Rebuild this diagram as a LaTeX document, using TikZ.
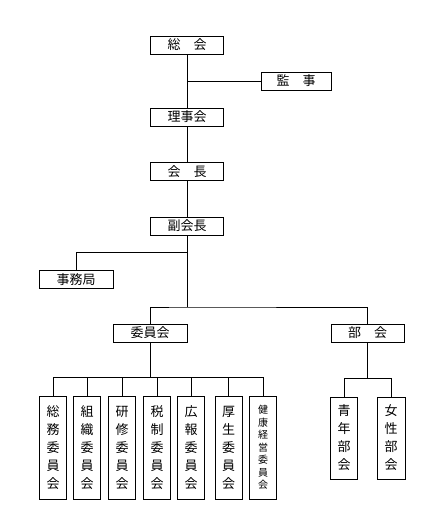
\documentclass[tikz,border=0pt]{standalone}
\usepackage{fontspec}
\newfontfamily\jpfont{Noto Sans CJK JP}
\usetikzlibrary{positioning,calc}

\tikzset{
  hbox/.style={draw, line width=0.9pt, minimum width=73pt, minimum height=18pt,
    inner sep=0pt, font=\jpfont\fontsize{13}{15}\selectfont},
  vbox/.style={draw, line width=0.9pt, minimum width=27pt, minimum height=103pt,
    inner sep=0pt, align=center, font=\jpfont\fontsize{13}{18}\selectfont},
  link/.style={line width=0.9pt}
}

\begin{document}
\begin{tikzpicture}[x=1pt,y=-1pt]
        \useasboundingbox (0,0) rectangle (445,524);
        % Top of the chart
        \node[hbox] (soukai) at (187,45) {総　会};
        \node[hbox, minimum width=70pt] (kanji) at (296,81) {監　事};
        \node[hbox] (rijikai) at (187,117) {理事会};
        \node[hbox] (kaichou) at (187,171.5) {会　長};
        \node[hbox] (fuku) at (187,226) {副会長};
        \node[hbox, minimum width=74pt] (jimu) at (76,279.5) {事務局};
        % Trunk
        \draw[link] (soukai) -- (rijikai);
        \draw[link] (kanji.west) -- (kanji.west -| soukai.south);
        \draw[link] (rijikai) -- (kaichou);
        \draw[link] (kaichou) -- (fuku);
        \coordinate (jb) at (187,252);
        \coordinate (br) at (187,307);
        \draw[link] (fuku.south) -- (br);
        \draw[link] (jimu.north) |- (jb);
        % Second level
        \node[hbox, minimum width=74pt] (iinkai) at (150,333) {委員会};
        \node[hbox] (bukai) at (367.5,333) {部　会};
        \draw[link] (iinkai.north) |- (br) -| (bukai.north);
        % Committees
        \node[vbox] (c1) at (53,447.5) {総\\務\\委\\員\\会};
        \node[vbox] (c2) at (87,447.5) {組\\織\\委\\員\\会};
        \node[vbox] (c3) at (122,447.5) {研\\修\\委\\員\\会};
        \node[vbox] (c4) at (157,447.5) {税\\制\\委\\員\\会};
        \node[vbox] (c5) at (191,447.5) {広\\報\\委\\員\\会};
        \node[vbox] (c6) at (228.5,447.5) {厚\\生\\委\\員\\会};
        \node[vbox, font=\jpfont\fontsize{10}{12.5}\selectfont] (c7) at (263,447.5)
          {健\\康\\経\\営\\委\\員\\会};
        \coordinate (ib) at (150,377);
        \draw[link] (iinkai.south) -- (ib);
        \foreach \c in {c1,c2,c3,c4,c5,c6,c7}
          \draw[link] (ib) -| (\c.north);
        % Sections
        \node[vbox, minimum height=82pt] (seinen) at (344,438) {青\\年\\部\\会};
        \node[vbox, minimum height=82pt, minimum width=28pt] (josei) at (391,438) {女\\性\\部\\会};
        \coordinate (bb) at (367.5,378);
        \draw[link] (bukai.south) -- (bb);
        \draw[link] (bb) -| (seinen.north);
        \draw[link] (bb) -| (josei.north);
\end{tikzpicture}
\end{document}
